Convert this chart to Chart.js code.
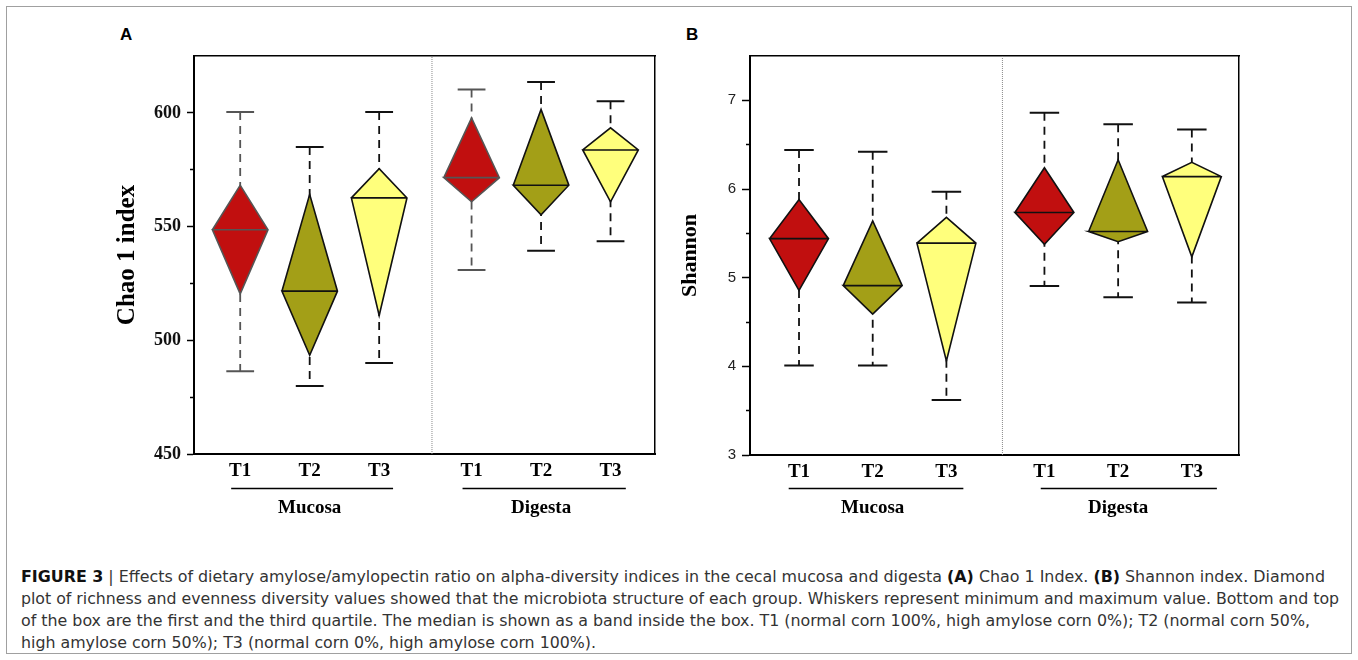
<!DOCTYPE html>
<html>
<head>
<meta charset="utf-8">
<script src="https://cdn.jsdelivr.net/npm/chart.js@4.4.1/dist/chart.umd.min.js"></script>
<style>
html,body{margin:0;padding:0;background:#fff;}
body{width:1358px;height:660px;position:relative;overflow:hidden;}
#frame{position:absolute;left:6px;top:6px;width:1346px;height:648px;border:1px solid #a0a0a0;box-sizing:border-box;}
.letter{position:absolute;font:bold 17px "Liberation Sans",Arial,sans-serif;color:#000;line-height:17px;}
.chartbox{position:absolute;}
#caption{position:absolute;left:21px;top:566px;width:1330px;height:90px;font-family:"Liberation Sans Narrow","DejaVu Sans Condensed","Liberation Sans",sans-serif;font-size:16px;color:#333;}
#caption .ln{position:absolute;left:0;white-space:nowrap;transform-origin:0 50%;line-height:22px;}
#caption b{color:#111;}
</style>
</head>
<body>
<div id="frame"></div>
<div class="letter" style="left:120px;top:26px;">A</div>
<div class="letter" style="left:686px;top:26px;">B</div>
<div class="chartbox" style="left:100px;top:30px;width:570px;height:500px;"><canvas id="chartA"></canvas></div>
<div class="chartbox" style="left:660px;top:30px;width:590px;height:500px;"><canvas id="chartB"></canvas></div>
<div id="caption">
  <div class="ln" data-w="1304" style="top:0px;"><b>FIGURE 3</b> | Effects of dietary amylose/amylopectin ratio on alpha-diversity indices in the cecal mucosa and digesta <b>(A)</b> Chao 1 Index. <b>(B)</b> Shannon index. Diamond</div>
  <div class="ln" data-w="1318" style="top:22px;">plot of richness and evenness diversity values showed that the microbiota structure of each group. Whiskers represent minimum and maximum value. Bottom and top</div>
  <div class="ln" data-w="1289" style="top:44px;">of the box are the first and the third quartile. The median is shown as a band inside the box. T1 (normal corn 100%, high amylose corn 0%); T2 (normal corn 50%,</div>
  <div class="ln" data-w="575" style="top:66px;">high amylose corn 50%); T3 (normal corn 0%, high amylose corn 100%).</div>
</div>
<script>
// ---------------- data ----------------
const treatments = ['T1', 'T2', 'T3'];
const sites = ['Mucosa', 'Digesta'];
// order: Mucosa T1, T2, T3, Digesta T1, T2, T3
const chaoMax    = [600.4, 585.0, 600.4, 610.3, 613.6, 605.1];
const chaoQ3     = [568.2, 564.2, 575.5, 597.8, 601.5, 593.4];
const chaoMedian = [548.6, 521.6, 562.6, 571.5, 568.2, 583.7];
const chaoQ1     = [520.4, 493.4, 510.9, 560.9, 555.2, 560.9];
const chaoMin    = [486.4, 479.9, 490.0, 530.9, 539.4, 543.6];

const shannonMax    = [6.44, 6.42, 5.97, 6.86, 6.73, 6.67];
const shannonQ3     = [5.88, 5.64, 5.68, 6.24, 6.33, 6.30];
const shannonMedian = [5.44, 4.91, 5.39, 5.735, 5.52, 6.14];
const shannonQ1     = [4.856, 4.59, 4.06, 5.375, 5.405, 5.235];
const shannonMin    = [4.01, 4.01, 3.62, 4.905, 4.78, 4.72];

const chaoTicks = [450, 475, 500, 525, 550, 575, 600];
const shannonTicks = [3, 3.5, 4, 4.5, 5, 5.5, 6, 6.5, 7];

// ---------------- styling / layout ----------------
const fillColors = ['#C10F0F', '#A39F17', '#FFFF7C'];
const SERIF = '"Liberation Serif","Times New Roman",serif';
const SANS = '"Liberation Sans",Arial,sans-serif';
const X_MIN = 0.335, X_MAX = 6.97, GROUP_SHIFT = 3.33, SEP = 3.76;
const xPos = i => 1 + (i % 3) + Math.floor(i / 3) * GROUP_SHIFT;
const tickPositions = [0,1,2,3,4,5].map(xPos);
const groupCenters = [xPos(1), xPos(4)];

function buildDatasets(s, strokes, yMin, yMax) {
  const ds = [];
  for (let i = 0; i < 6; i++) {
    const x = xPos(i), t = i % 3;
    ds.push({
      data: [
        {x: x - 0.4, y: s.med[i]}, {x: x, y: s.q3[i]}, {x: x + 0.4, y: s.med[i]},
        {x: x, y: s.q1[i]}, {x: x - 0.4, y: s.med[i]}, {x: x + 0.4, y: s.med[i]}
      ],
      borderColor: strokes[t], backgroundColor: fillColors[t], borderWidth: 1.6,
      fill: 'shape', order: 1, borderJoinStyle: 'miter'
    });
    ds.push({
      data: [{x: x - 0.2, y: s.max[i]}, {x: x + 0.2, y: s.max[i]}, {x: x, y: null},
             {x: x - 0.2, y: s.min[i]}, {x: x + 0.2, y: s.min[i]}],
      borderColor: strokes[t], borderWidth: 2, fill: false, order: 2
    });
    ds.push({
      data: [{x: x, y: s.max[i]}, {x: x, y: s.min[i]}],
      borderColor: strokes[t], borderWidth: 1.8, borderDash: [8, 6], fill: false, order: 3
    });
  }
  ds.push({
    data: [{x: SEP, y: yMin}, {x: SEP, y: yMax}],
    borderColor: '#8a8a8a', borderWidth: 1, borderDash: [1, 1], fill: false, order: 4
  });
  return ds;
}

const underlinePlugin = {
  id: 'groupUnderline',
  afterDraw(chart, args, opts) {
    const sx = chart.scales.x, ctx = chart.ctx;
    ctx.save();
    ctx.strokeStyle = '#000';
    ctx.lineWidth = 1.5;
    (opts.spans || []).forEach(([a, b]) => {
      const y = Math.round(sx.bottom) + 0.5;
      ctx.beginPath();
      ctx.moveTo(sx.getPixelForValue(a), y);
      ctx.lineTo(sx.getPixelForValue(b), y);
      ctx.stroke();
    });
    ctx.restore();
  }
};

function makeChart(id, o) {
  return new Chart(document.getElementById(id), {
    type: 'line',
    data: { datasets: o.datasets },
    options: {
      responsive: true, maintainAspectRatio: false, animation: false, events: [],
      layout: { padding: o.padding },
      elements: { point: { radius: 0, hoverRadius: 0 }, line: { tension: 0 } },
      plugins: { legend: { display: false }, tooltip: { enabled: false }, groupUnderline: { spans: o.spans } },
      scales: {
        x: {
          type: 'linear', position: 'bottom', min: X_MIN, max: X_MAX,
          afterBuildTicks: s => { s.ticks = tickPositions.map(v => ({value: v})); },
          afterFit: s => { s.height = o.xH; },
          ticks: { autoSkip: false, maxRotation: 0, minRotation: 0, padding: 6, color: '#000',
                   font: { family: SERIF, size: 19, weight: 'bold' },
                   callback: (v, i) => treatments[i % 3] },
          grid: { display: true, drawOnChartArea: false, drawTicks: false },
          border: { display: true, color: '#000', width: 2 }
        },
        xGroup: {
          type: 'linear', position: 'bottom', weight: 1, min: X_MIN, max: X_MAX,
          afterBuildTicks: s => { s.ticks = groupCenters.map(v => ({value: v})); },
          afterFit: s => { s.height = o.x2H; },
          ticks: { autoSkip: false, maxRotation: 0, minRotation: 0, padding: 1, color: '#000',
                   font: { family: SERIF, size: 19, weight: 'bold' },
                   callback: (v, i) => sites[i] },
          grid: { display: false }, border: { display: false }
        },
        xTop: {
          type: 'linear', position: 'top', min: X_MIN, max: X_MAX,
          ticks: { display: false }, grid: { display: false },
          border: { display: true, color: '#000', width: 1.5 },
          afterFit: s => { s.height = 0; }
        },
        y: {
          type: 'linear', position: 'left', min: o.yMin, max: o.yMax,
          afterBuildTicks: s => { s.ticks = o.yTicks.map(v => ({value: v})); },
          afterFit: s => { s.width = o.yW; },
          ticks: { padding: 6, color: o.tickColor, font: o.tickFont,
                   callback: v => (o.isMajor(v) ? String(v) : '') },
          grid: { display: true, drawOnChartArea: false, drawTicks: true, tickLength: o.tickLen,
                  tickWidth: 1.5, tickColor: '#000',
                  tickBorderDash: c => (c.tick && !o.isMajor(c.tick.value)) ? [0, o.tickLen - 4, 4, 0] : [] },
          border: { display: true, color: '#000', width: 2 },
          title: { display: true, text: o.title, color: '#000',
                   font: { family: SERIF, size: o.titleSize, weight: 'bold' },
                   padding: { top: o.titlePad, bottom: 0 } }
        },
        yRight: {
          type: 'linear', position: 'right', min: o.yMin, max: o.yMax,
          ticks: { display: false }, grid: { display: false },
          border: { display: true, color: '#000', width: 1.5 },
          afterFit: s => { s.width = 0; }
        }
      }
    },
    plugins: [underlinePlugin]
  });
}

makeChart('chartA', {
  datasets: buildDatasets({max: chaoMax, q3: chaoQ3, med: chaoMedian, q1: chaoQ1, min: chaoMin},
                          ['#555555', '#111111', '#111111'], 450, 625),
  padding: { top: 26, right: 15, left: 0, bottom: 0 },
  xH: 34, x2H: 42, yW: 94,
  yMin: 450, yMax: 625, yTicks: chaoTicks, isMajor: v => v % 50 === 0,
  tickColor: '#111', tickFont: { family: SERIF, size: 18, weight: 'bold' }, tickLen: 7,
  title: 'Chao 1 index', titleSize: 25, titlePad: 13,
  spans: [[0.87, 3.2], [4.2, 6.55]]
});

makeChart('chartB', {
  datasets: buildDatasets({max: shannonMax, q3: shannonQ3, med: shannonMedian, q1: shannonQ1, min: shannonMin},
                          ['#111111', '#111111', '#111111'], 3, 7.5),
  padding: { top: 26, right: 11, left: 0, bottom: 0 },
  xH: 33, x2H: 42, yW: 90,
  yMin: 3, yMax: 7.5, yTicks: shannonTicks, isMajor: v => Number.isInteger(v),
  tickColor: '#222', tickFont: { family: SANS, size: 15, weight: 'normal' }, tickLen: 8,
  title: 'Shannon', titleSize: 22, titlePad: 17,
  spans: [[0.86, 3.23], [4.28, 6.67]]
});

// caption: fit each line to its measured width in the reference
document.querySelectorAll('#caption .ln').forEach(el => {
  const w = el.getBoundingClientRect().width;
  const target = parseFloat(el.dataset.w);
  if (w > 0) el.style.transform = 'scaleX(' + (target / w).toFixed(4) + ')';
});
</script>
</body>
</html>
